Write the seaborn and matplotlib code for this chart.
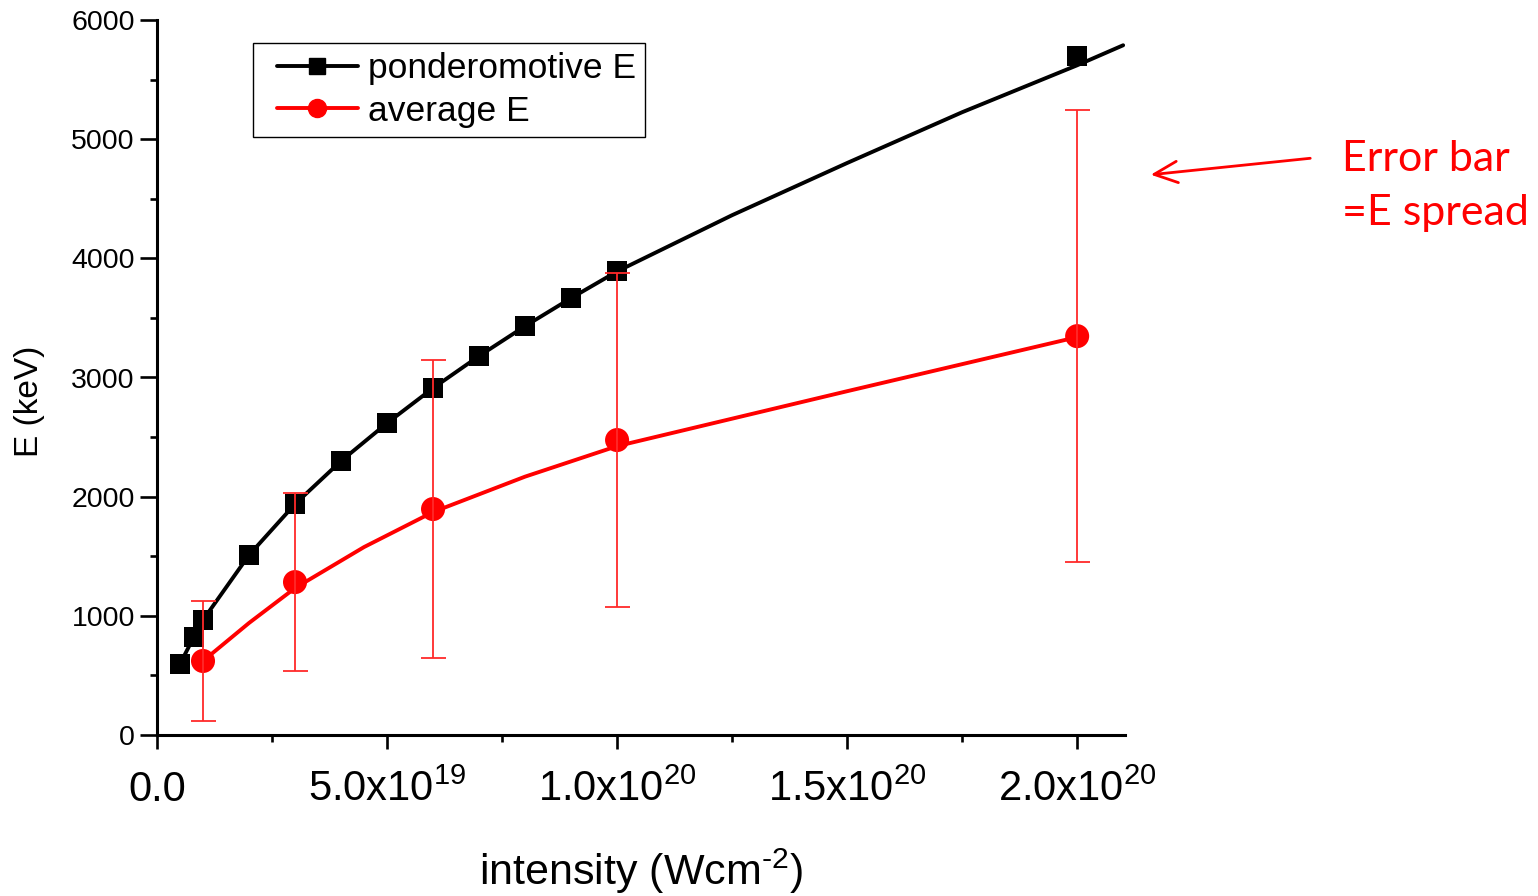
import matplotlib
matplotlib.use("Agg")
import matplotlib.pyplot as plt
from matplotlib.lines import Line2D
from matplotlib.legend_handler import HandlerLine2D
from matplotlib.patches import FancyArrowPatch
from matplotlib.ticker import FixedLocator, FixedFormatter, MultipleLocator
import pandas as pd
import seaborn as sns

# Ponderomotive energy at each computed intensity (W cm^-2, keV)
pond_intensity = [0.5e19, 0.8e19, 1.0e19, 2e19, 3e19, 4e19, 5e19, 6e19, 7e19,
                  8e19, 9e19, 1.0e20, 2.0e20]
pond_energy = [596, 822, 965, 1510, 1938, 2299, 2617, 2911, 3180, 3431, 3666,
               3893, 5696]

# Trend curve through the ponderomotive energy
pond_curve_intensity = [0.5e19, 0.8e19, 1.0e19, 2e19, 3e19, 4e19, 5e19, 6e19,
                        7e19, 8e19, 9e19, 1.0e20, 1.25e20, 1.5e20, 1.75e20,
                        2.0e20, 2.1e20]
pond_curve_energy = [596, 822, 965, 1510, 1938, 2299, 2617, 2911, 3180, 3431,
                     3666, 3890, 4362, 4800, 5226, 5620, 5788]

# Average electron energy and its spread
avg_intensity = [1e19, 3e19, 6e19, 1e20, 2e20]
avg_energy = [621, 1283, 1896, 2475, 3347]
avg_spread = [500, 750, 1250, 1400, 1896]

# Trend curve through the average energy
avg_curve_intensity = [1e19, 2e19, 3e19, 4.5e19, 6e19, 8e19, 1e20, 1.5e20, 2e20]
avg_curve_energy = [621, 940, 1233, 1577, 1871, 2168, 2424, 2885, 3339]

x_ticks = [0, 5e19, 1e20, 1.5e20, 2e20]
x_tick_labels = ["0.0", r"5.0x10$^{19}$", r"1.0x10$^{20}$", r"1.5x10$^{20}$",
                 r"2.0x10$^{20}$"]
y_ticks = [0, 1000, 2000, 3000, 4000, 5000, 6000]

sns.set_style("ticks")
plt.rcParams["font.family"] = ["Liberation Sans", "DejaVu Sans"]
plt.rcParams["mathtext.fontset"] = "custom"
plt.rcParams["mathtext.rm"] = "Liberation Sans"
plt.rcParams["mathtext.it"] = "Liberation Sans"
plt.rcParams["mathtext.default"] = "regular"
plt.rcParams["text.color"] = "black"
plt.rcParams["axes.labelcolor"] = "black"


class InsetLineHandler(HandlerLine2D):
    """Legend handle whose line starts a little way in from the frame."""

    def __init__(self, inset, **kw):
        super().__init__(**kw)
        self.inset = inset

    def create_artists(self, legend, orig_handle, xdescent, ydescent, width,
                       height, fontsize, trans):
        shift = self.inset * fontsize
        return super().create_artists(legend, orig_handle, xdescent - shift,
                                      ydescent, width - shift, height,
                                      fontsize, trans)


fig = plt.figure(figsize=(15.38, 8.96), dpi=100)
ax = fig.add_axes([157 / 1538, 1 - 735 / 896, (1125 - 157) / 1538, (735 - 20) / 896])

pond_curve = pd.DataFrame({"I": pond_curve_intensity, "E": pond_curve_energy})
avg_curve = pd.DataFrame({"I": avg_curve_intensity, "E": avg_curve_energy})
pond_pts = pd.DataFrame({"I": pond_intensity, "E": pond_energy})
avg_pts = pd.DataFrame({"I": avg_intensity, "E": avg_energy})

sns.lineplot(data=pond_curve, x="I", y="E", color="black", lw=2.8, ax=ax,
             sort=False, zorder=2)
sns.lineplot(data=avg_curve, x="I", y="E", color="#ff0000", lw=2.8, ax=ax,
             sort=False, zorder=2)
sns.scatterplot(data=pond_pts, x="I", y="E", marker="s", s=200, color="black",
                edgecolor="none", ax=ax, zorder=3)
sns.scatterplot(data=avg_pts, x="I", y="E", marker="o", s=300, color="#ff0000",
                edgecolor="none", ax=ax, zorder=3)
ax.errorbar(avg_intensity, avg_energy, yerr=avg_spread, fmt="none",
            ecolor="#ff2a2a", elinewidth=1.3, capsize=9, capthick=1.3, zorder=4)

ax.set_xlim(0, 2.104e20)
ax.set_ylim(0, 6000)

ax.xaxis.set_major_locator(FixedLocator(x_ticks))
ax.xaxis.set_major_formatter(FixedFormatter(x_tick_labels))
ax.xaxis.set_minor_locator(MultipleLocator(2.5e19))
ax.yaxis.set_major_locator(FixedLocator(y_ticks))
ax.yaxis.set_minor_locator(MultipleLocator(500))

for side in ("top", "right"):
    ax.spines[side].set_visible(False)
for side in ("left", "bottom"):
    ax.spines[side].set_linewidth(2.2)
    ax.spines[side].set_color("black")

ax.tick_params(axis="y", which="major", direction="out", length=12, width=1.9,
               labelsize=20.5, pad=4, colors="black")
ax.tick_params(axis="y", which="minor", direction="out", length=5, width=1.9,
               colors="black")
ax.tick_params(axis="x", which="major", direction="out", length=10, width=1.9,
               labelsize=30, pad=15, colors="black")
ax.tick_params(axis="x", which="minor", direction="out", length=5, width=1.9,
               colors="black")

ax.set_xlabel("intensity (Wcm$^{\u20102}$)", fontsize=31, labelpad=26)
ax.set_ylabel("E (keV)", fontsize=24, va="bottom")
ax.yaxis.set_label_coords((45 - 157) / 968, (735 - 401) / 715)

handles = [
    Line2D([], [], color="black", lw=2.8, marker="s", markersize=11),
    Line2D([], [], color="#ff0000", lw=2.8, marker="o", markersize=13),
]
leg = ax.legend(handles, ["ponderomotive E", "average E"], loc="upper left",
                bbox_to_anchor=(0.0992, 0.968), borderaxespad=0, fontsize=25.5,
                frameon=True, fancybox=False, framealpha=1, edgecolor="black",
                handlelength=2.7, handletextpad=0.29, labelspacing=0.27,
                borderpad=0.26,
                handler_map={Line2D: InsetLineHandler(inset=0.42)})
leg.get_frame().set_linewidth(1.0)

# Note on the error bars, placed to the right of the plot
fig.text(1342 / 1538, 1 - 186 / 896, "Error bar\n=E spread", color="#ff0000",
         fontsize=31, family=["Lato", "DejaVu Sans"], ha="left", va="center",
         linespacing=1.5)
fig.add_artist(FancyArrowPatch(
    (1313 / 1538, 1 - 158 / 896), (1148 / 1538, 1 - 175 / 896),
    transform=fig.transFigure, arrowstyle="->,head_length=1.2,head_width=0.55",
    color="#ff0000", lw=2.0, mutation_scale=14))

fig.savefig("out.png", dpi=100)
